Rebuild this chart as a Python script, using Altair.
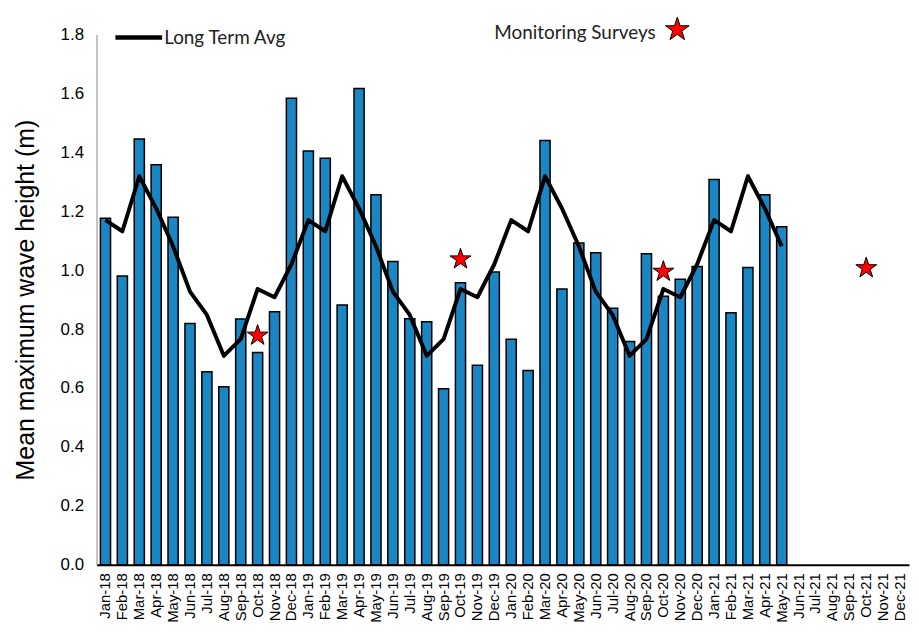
import altair as alt
import pandas as pd

months = ["Jan-18","Feb-18","Mar-18","Apr-18","May-18","Jun-18","Jul-18","Aug-18","Sep-18","Oct-18","Nov-18","Dec-18",
          "Jan-19","Feb-19","Mar-19","Apr-19","May-19","Jun-19","Jul-19","Aug-19","Sep-19","Oct-19","Nov-19","Dec-19",
          "Jan-20","Feb-20","Mar-20","Apr-20","May-20","Jun-20","Jul-20","Aug-20","Sep-20","Oct-20","Nov-20","Dec-20",
          "Jan-21","Feb-21","Mar-21","Apr-21","May-21","Jun-21","Jul-21","Aug-21","Sep-21","Oct-21","Nov-21","Dec-21"]

wave = [1.176, 0.980, 1.445, 1.358, 1.180, 0.819, 0.655, 0.604, 0.834, 0.720, 0.859, 1.584,
        1.405, 1.380, 0.882, 1.617, 1.256, 1.029, 0.835, 0.825, 0.597, 0.957, 0.677, 0.994,
        0.765, 0.659, 1.440, 0.936, 1.092, 1.059, 0.871, 0.758, 1.056, 0.911, 0.969, 1.012,
        1.308, 0.855, 1.009, 1.256, 1.147]

long_term_avg = [1.170, 1.132, 1.319, 1.210, 1.081, 0.927, 0.848, 0.709, 0.766, 0.936, 0.908, 1.020,
                 1.170, 1.132, 1.319, 1.210, 1.081, 0.927, 0.848, 0.709, 0.766, 0.936, 0.908, 1.020,
                 1.170, 1.132, 1.319, 1.210, 1.081, 0.927, 0.848, 0.709, 0.766, 0.936, 0.908, 1.020,
                 1.170, 1.132, 1.319, 1.210, 1.081]

survey_months = ["Oct-18", "Oct-19", "Oct-20", "Oct-21"]
survey_values = [0.778, 1.037, 0.995, 1.007]

y_ticks = [0, 0.2, 0.4, 0.6, 0.8, 1.0, 1.2, 1.4, 1.6, 1.8]

bars_df = pd.DataFrame({"month": months[:len(wave)], "wave": wave})
avg_df = pd.DataFrame({"month": months[:len(long_term_avg)], "avg": long_term_avg})
star_df = pd.DataFrame({"month": survey_months, "val": survey_values})

FONT = "Liberation Sans"
STAR = ("M0,-1L0.225,-0.309L0.951,-0.309L0.363,0.118L0.588,0.809L0,0.382"
        "L-0.588,0.809L-0.363,0.118L-0.951,-0.309L-0.225,-0.309Z")

x_enc = alt.X("month:N", sort=months,
              scale=alt.Scale(domain=months, paddingInner=0.4, paddingOuter=0.23),
              axis=alt.Axis(title=None, labelAngle=270, labelFontSize=15, labelColor="#000000",
                            labelFont=FONT, ticks=False, domainColor="#000000", domainWidth=2,
                            labelPadding=8))
y_scale = alt.Scale(domain=[0, 1.8], nice=False)

bars = alt.Chart(bars_df).mark_bar(color="#1a86c4", stroke="#000000", strokeWidth=1.5).encode(
    x=x_enc,
    y=alt.Y("wave:Q", scale=y_scale,
            axis=alt.Axis(title="Mean maximum wave height (m)", values=y_ticks,
                          format=".1f", labelFontSize=17, labelFont=FONT, labelColor="#000000",
                          ticks=False, grid=False, domainColor="#888888", domainWidth=1,
                          labelPadding=13, titleFont=FONT, titleFontSize=25, titleFontWeight="normal",
                          titleColor="#000000", titlePadding=22))
)

line = alt.Chart(avg_df).mark_line(color="#000000", strokeWidth=4, strokeJoin="round").encode(
    x=alt.X("month:N", sort=months),
    y=alt.Y("avg:Q", scale=y_scale)
)

stars = alt.Chart(star_df).mark_point(shape=STAR, filled=True, color="#ff0000", stroke="#000000",
                                      strokeWidth=1, size=484, opacity=1).encode(
    x=alt.X("month:N", sort=months),
    y=alt.Y("val:Q", scale=y_scale)
)

leg_line_df = pd.DataFrame({"x1": [19], "x2": [66], "y": [3]})
leg_line = alt.Chart(leg_line_df).mark_rule(color="#000000", strokeWidth=4.5).encode(
    x=alt.X("x1:Q", scale=None), x2="x2:Q", y=alt.Y("y:Q", scale=None))

leg_txt_df = pd.DataFrame({"label": ["Long Term Avg", "Monitoring Surveys"], "px": [68, 400], "py": [3, -2]})
leg_text = alt.Chart(leg_txt_df).mark_text(font="Lato", fontSize=19, align="left",
                                           baseline="middle", color="#222222").encode(
    x=alt.X("px:Q", scale=None), y=alt.Y("py:Q", scale=None), text="label:N")

leg_star_df = pd.DataFrame({"px": [584], "py": [-5]})
leg_star = alt.Chart(leg_star_df).mark_point(shape=STAR, filled=True, color="#ff0000", stroke="#000000",
                                             strokeWidth=1, size=625, opacity=1).encode(
    x=alt.X("px:Q", scale=None), y=alt.Y("py:Q", scale=None))

chart = alt.layer(bars, line, stars, leg_line, leg_text, leg_star).properties(
    width=817, height=533,
    autosize=alt.AutoSizeParams(type="none"),
    padding={"left": 89, "top": 25, "right": 2, "bottom": 62}
).configure_view(strokeWidth=0)

chart.save("out.html", embed_options={"renderer": "svg", "actions": False})
